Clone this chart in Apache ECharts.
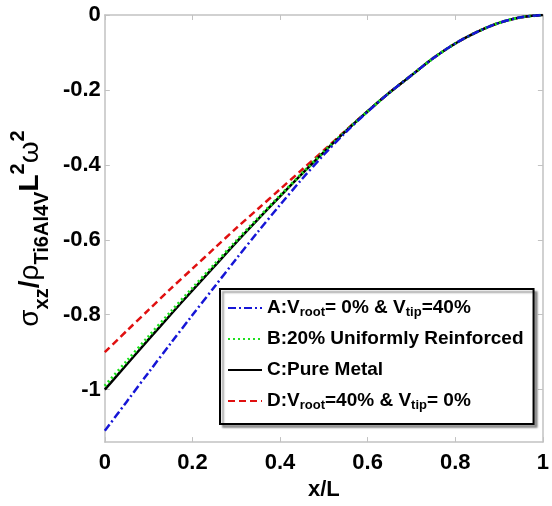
<!DOCTYPE html>
<html>
<head>
<meta charset="utf-8">
<script src="https://cdn.jsdelivr.net/npm/echarts@6/dist/echarts.min.js"></script>
<style>
  html, body { margin: 0; padding: 0; background: #ffffff; }
  #chart { width: 552px; height: 506px; }
</style>
</head>
<body>
<div id="chart"></div>
<script>
// Normalised span position x/L
const xValues = [0, 0.05, 0.1, 0.15, 0.2, 0.25, 0.3, 0.35, 0.4, 0.45, 0.5,
                 0.55, 0.6, 0.65, 0.7, 0.75, 0.8, 0.85, 0.9, 0.95, 1];

// A: Vroot = 0% & Vtip = 40%
const seriesA = [-1.110, -1.032, -0.954, -0.877, -0.801, -0.726, -0.651, -0.578, -0.507, -0.438, -0.373,
                 -0.313, -0.258, -0.207, -0.161, -0.115, -0.076, -0.045, -0.021, -0.006, 0];
// B: 20% uniformly reinforced
const seriesB = [-0.990, -0.924, -0.858, -0.793, -0.729, -0.666, -0.603, -0.542, -0.482, -0.423, -0.365,
                 -0.310, -0.257, -0.207, -0.161, -0.115, -0.076, -0.045, -0.021, -0.006, 0];
// C: pure metal
const seriesC = [-1.000, -0.933, -0.866, -0.800, -0.735, -0.671, -0.607, -0.545, -0.484, -0.424, -0.366,
                 -0.310, -0.257, -0.207, -0.161, -0.115, -0.076, -0.045, -0.021, -0.006, 0];
// D: Vroot = 40% & Vtip = 0%
const seriesD = [-0.900, -0.843, -0.787, -0.731, -0.677, -0.623, -0.569, -0.517, -0.465, -0.413, -0.361,
                 -0.308, -0.257, -0.207, -0.161, -0.115, -0.076, -0.045, -0.021, -0.006, 0];

const seriesNames = ['A', 'B', 'C', 'D'];
const legendLabels = {
  A: 'A:V{s|root}= 0% & V{s|tip}=40%',
  B: 'B:20% Uniformly Reinforced',
  C: 'C:Pure Metal',
  D: 'D:V{s|root}=40% & V{s|tip}= 0%'
};

const yTicks = [0, -0.2, -0.4, -0.6, -0.8, -1];
const yMin = -1.14;

const FONT = "'Liberation Sans', Arial, sans-serif";
const AXIS_GREY = '#c2c2c2';

function pairs(values) {
  return xValues.map((x, i) => [x, values[i]]);
}

const chart = echarts.init(document.getElementById('chart'), null, { renderer: 'canvas' });

const option = {
  animation: false,
  backgroundColor: '#ffffff',
  grid: { left: 100, top: 15, right: 5, bottom: 63, show: false },
  legend: {
    orient: 'vertical',
    left: 220,
    top: 289,
    padding: [8, 10, 12, 7],
    itemGap: 9,
    itemWidth: 34,
    itemHeight: 12,
    backgroundColor: '#ffffff',
    borderColor: '#000000',
    borderWidth: 2,
    borderRadius: 0,
    shadowColor: 'rgba(0,0,0,0.35)',
    shadowBlur: 2,
    shadowOffsetX: 3,
    shadowOffsetY: 3,
    itemStyle: { opacity: 0 },
    data: seriesNames,
    formatter: name => legendLabels[name],
    textStyle: {
      fontFamily: FONT,
      fontSize: 19,
      fontWeight: 'bold',
      color: '#000000',
      lineHeight: 22,
      rich: {
        s: { fontFamily: FONT, fontSize: 13, fontWeight: 'bold', color: '#000000',
             lineHeight: 16, verticalAlign: 'bottom' }
      }
    }
  },
  xAxis: [{
    type: 'value',
    position: 'bottom',
    min: 0, max: 1, interval: 0.2,
    axisLine: { show: true, onZero: false, lineStyle: { color: AXIS_GREY, width: 1.5 } },
    axisTick: { show: true, inside: true, length: 5, lineStyle: { color: AXIS_GREY } },
    axisLabel: { margin: 10, fontFamily: FONT, fontSize: 22, fontWeight: 'bold', color: '#000000' },
    splitLine: { show: false },
    name: 'x/L',
    nameLocation: 'middle',
    nameGap: 34,
    nameTextStyle: { fontFamily: FONT, fontSize: 22, fontWeight: 'bold', color: '#000000' }
  }, {
    type: 'value',
    position: 'top',
    min: 0, max: 1, interval: 0.2,
    axisLine: { show: true, onZero: false, lineStyle: { color: AXIS_GREY, width: 1.5 } },
    axisTick: { show: true, inside: true, length: 5, lineStyle: { color: AXIS_GREY } },
    axisLabel: { show: false },
    splitLine: { show: false }
  }],
  yAxis: [{
    type: 'value',
    position: 'left',
    min: yMin, max: 0,
    axisLine: { show: true, onZero: false, lineStyle: { color: AXIS_GREY, width: 1.5 } },
    axisTick: { show: true, inside: true, length: 5, customValues: yTicks, lineStyle: { color: AXIS_GREY } },
    axisLabel: { margin: 4, customValues: yTicks, fontFamily: FONT, fontSize: 22, fontWeight: 'bold', color: '#000000' },
    splitLine: { show: false },
    name: '{g|σ}{sub|xz}{m|/}{g|ρ}{sub|Ti6Al4V}{m|L}{sup|2}{g|ω}{sup|2}',
    nameLocation: 'middle',
    nameRotate: 90,
    nameGap: 48,
    nameTextStyle: {
      fontFamily: FONT, fontSize: 28, fontWeight: 'bold', color: '#000000',
      rich: {
        m: { fontFamily: FONT, fontSize: 28, fontWeight: 'bold', color: '#000000', lineHeight: 44, verticalAlign: 'middle' },
        g: { fontFamily: FONT, fontSize: 28, fontWeight: 'normal', color: '#000000', lineHeight: 44, verticalAlign: 'middle' },
        sub: { fontFamily: FONT, fontSize: 20, fontWeight: 'bold', color: '#000000', lineHeight: 26, verticalAlign: 'bottom' },
        sup: { fontFamily: FONT, fontSize: 20, fontWeight: 'bold', color: '#000000', lineHeight: 26, verticalAlign: 'top' }
      }
    }
  }, {
    type: 'value',
    position: 'right',
    min: yMin, max: 0,
    axisLine: { show: true, onZero: false, lineStyle: { color: AXIS_GREY, width: 1.5 } },
    axisTick: { show: true, inside: true, length: 5, customValues: yTicks, lineStyle: { color: AXIS_GREY } },
    axisLabel: { show: false },
    splitLine: { show: false }
  }],
  series: [
    {
      name: 'A', type: 'line', data: pairs(seriesA), xAxisIndex: 0, yAxisIndex: 0,
      symbol: 'none', smooth: 0.3, z: 5,
      lineStyle: { color: '#1616d6', width: 2.5, type: [8, 3, 2, 3] },
      itemStyle: { color: '#1616d6' }
    },
    {
      name: 'B', type: 'line', data: pairs(seriesB), xAxisIndex: 0, yAxisIndex: 0,
      symbol: 'none', smooth: 0.3, z: 4,
      lineStyle: { color: '#1ee01e', width: 3, type: [2, 3] },
      itemStyle: { color: '#1ee01e' }
    },
    {
      name: 'C', type: 'line', data: pairs(seriesC), xAxisIndex: 0, yAxisIndex: 0,
      symbol: 'none', smooth: 0.3, z: 3,
      lineStyle: { color: '#000000', width: 2.5, type: 'solid' },
      itemStyle: { color: '#000000' }
    },
    {
      name: 'D', type: 'line', data: pairs(seriesD), xAxisIndex: 0, yAxisIndex: 0,
      symbol: 'none', smooth: 0.3, z: 2,
      lineStyle: { color: '#e01010', width: 2.5, type: [7, 4] },
      itemStyle: { color: '#e01010' }
    }
  ]
};

chart.setOption(option);
</script>
</body>
</html>
